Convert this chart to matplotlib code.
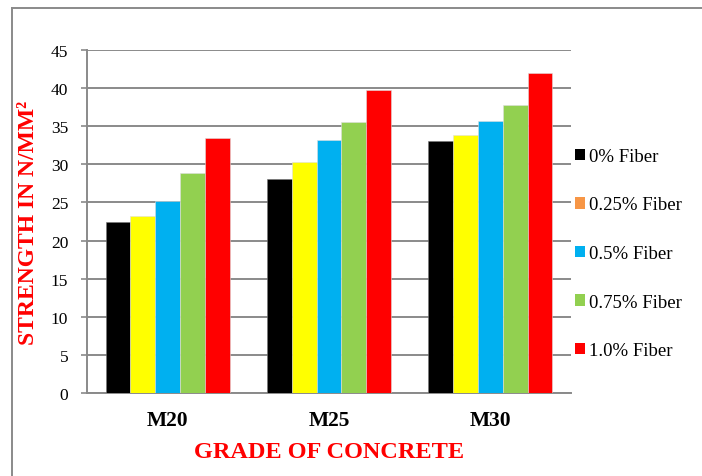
import matplotlib
matplotlib.use("Agg")
import matplotlib.pyplot as plt
import numpy as np
from matplotlib.patches import Patch
from matplotlib.lines import Line2D

# Compressive strength by concrete grade and fiber dosage
grades = ["M20", "M25", "M30"]
series_names = ["0% Fiber", "0.25% Fiber", "0.5% Fiber", "0.75% Fiber", "1.0% Fiber"]
fiber_0 = [22.5, 28.1, 33.1]
fiber_025 = [23.2, 30.3, 33.9]
fiber_05 = [25.2, 33.2, 35.7]
fiber_075 = [28.8, 35.6, 37.8]
fiber_10 = [33.4, 39.8, 42.0]
y_ticks = [0, 5, 10, 15, 20, 25, 30, 35, 40, 45]

series_values = [fiber_0, fiber_025, fiber_05, fiber_075, fiber_10]
bar_colors = ["#000000", "#FFFF00", "#00B0F0", "#92D050", "#FF0000"]
legend_colors = ["#000000", "#F79646", "#00B0F0", "#92D050", "#FF0000"]

serif = ["Liberation Serif", "DejaVu Serif"]
plt.rcParams["font.family"] = serif

W, H = 702, 477
fig = plt.figure(figsize=(W / 100, H / 100), dpi=100)
ax = fig.add_axes([87 / W, 1 - 394 / H, (571 - 87) / W, (394 - 51) / H])

grid_c = "#8A8A8A"
x = np.arange(len(grades))
bw = 0.154
for i, (vals, col) in enumerate(zip(series_values, bar_colors)):
    ax.bar(x + (i - 2) * bw, vals, width=bw, color=col,
           edgecolor="#DDDDDD" if col != "#000000" else "#777777",
           linewidth=0.4, zorder=3)

ax.set_xlim(-0.5, 2.5)
ax.set_ylim(0, 45)
ax.set_yticks(y_ticks)
ax.set_yticklabels([str(t) for t in y_ticks], fontsize=12.5, color="black")
ax.set_xticks(x)
ax.set_xticklabels(grades, fontsize=15.5, fontweight="bold", color="black")
ax.tick_params(axis="x", length=0, pad=12)
ax.tick_params(axis="y", length=4.5, width=1.2, color=grid_c, pad=9)

ax.yaxis.grid(True, color=grid_c, linewidth=1.4, zorder=0)
ax.set_axisbelow(True)
for s in ["top", "right"]:
    ax.spines[s].set_visible(False)
for s in ["left", "bottom"]:
    ax.spines[s].set_color(grid_c)
    ax.spines[s].set_linewidth(1.4)

fig.text(29 / W, 1 - 223 / H, "STRENGTH IN N/MM²", rotation=90,
         ha="center", va="center", fontsize=17, fontweight="bold", color="#FF0000")
fig.text(329 / W, 1 - 453 / H, "GRADE OF CONCRETE",
         ha="center", va="center", fontsize=17.5, fontweight="bold", color="#FF0000")

handles = [Patch(facecolor=c, edgecolor="none") for c in legend_colors]
leg = fig.legend(handles, series_names, loc="upper left",
                 bbox_to_anchor=(575 / W, 1 - 149 / H),
                 frameon=False, fontsize=13.5, handlelength=0.55,
                 handleheight=0.55, handletextpad=0.2, labelspacing=1.68,
                 borderaxespad=0, borderpad=0)

# outer frame (top and left edges)
fig.add_artist(Line2D([12 / W, 1.0], [1 - 9 / H, 1 - 9 / H], color=grid_c, linewidth=1.4))
fig.add_artist(Line2D([12 / W, 12 / W], [0, 1 - 9 / H], color=grid_c, linewidth=1.4))

fig.savefig("out.png", dpi=100)
